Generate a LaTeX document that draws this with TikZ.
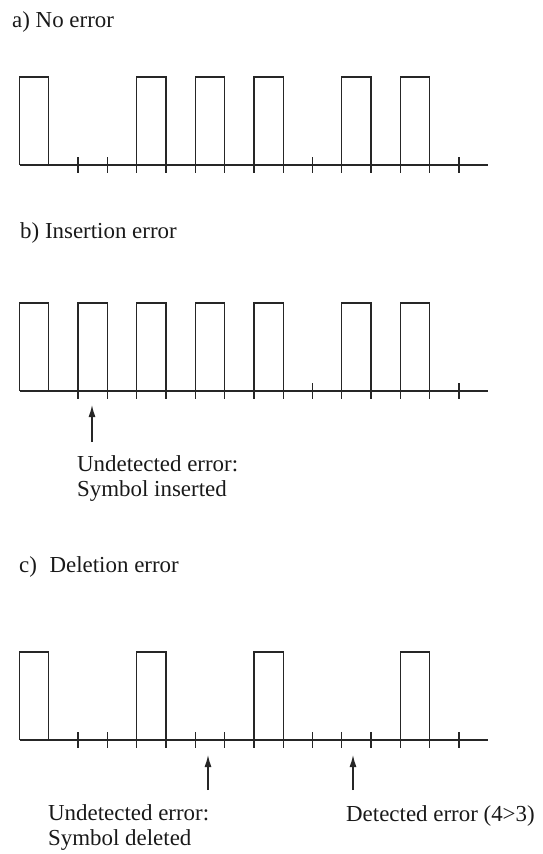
\documentclass[tikz,border=0pt]{standalone}
\usepackage{fontspec}
\setmainfont{Liberation Serif}
\usetikzlibrary{arrows.meta}
\begin{document}
\begin{tikzpicture}[x=1bp,y=-1bp,
  wave/.style={draw=black!85,line width=1.3bp,line join=miter},
  tickmark/.style={draw=black!85,line width=1.3bp},
  lbl/.style={anchor=base west,inner sep=0pt,font=\fontsize{23}{25}\selectfont,text=black!90},
  arr/.style={draw=black!85,line width=1.3bp,-{Latex[length=12bp,width=7bp]}}]
\useasboundingbox (0,0) rectangle (543,854);
\def\wx{19.5}
\def\wst{29.3}
\def\wh{88}
\def\wend{488}
% ---------- a) ----------
\node[lbl] (ta) at (12,27) {a) No error};
\def\bl{165}
\draw[wave] (\wx,\bl) -- (\wend,\bl);
\foreach \s in {0,4,6,8,11,13}
  \draw[wave] ({\wx+\s*\wst},\bl) -- ++(0,-\wh) -- ++(\wst,0) -- ++(0,\wh);
\foreach \k in {2,...,15}
  \draw[tickmark] ({\wx+\k*\wst},\bl-8) -- ++(0,16);
% ---------- b) ----------
\node[lbl] (tb) at (20,238) {b) Insertion error};
\def\bl{391}
\draw[wave] (\wx,\bl) -- (\wend,\bl);
\foreach \s in {0,2,4,6,8,11,13}
  \draw[wave] ({\wx+\s*\wst},\bl) -- ++(0,-\wh) -- ++(\wst,0) -- ++(0,\wh);
\foreach \k in {2,...,15}
  \draw[tickmark] ({\wx+\k*\wst},\bl-8) -- ++(0,16);
\coordinate (b1tail) at (92,442);
\coordinate (b1tip) at (92,405);
\draw[arr] (b1tail) -- (b1tip);
\node[lbl] (tb1) at (77,471) {Undetected error:};
\node[lbl] (tb2) at (77,496) {Symbol inserted};
% ---------- c) ----------
\node[lbl] (tc) at (19,572) {c)\hspace{0.55em}Deletion error};
\def\bl{740}
\draw[wave] (\wx,\bl) -- (\wend,\bl);
\foreach \s in {0,4,8,13}
  \draw[wave] ({\wx+\s*\wst},\bl) -- ++(0,-\wh) -- ++(\wst,0) -- ++(0,\wh);
\foreach \k in {2,...,15}
  \draw[tickmark] ({\wx+\k*\wst},\bl-8) -- ++(0,16);
\coordinate (c1tail) at (208,790);
\coordinate (c1tip) at (208,755);
\draw[arr] (c1tail) -- (c1tip);
\coordinate (c2tail) at (353,790);
\coordinate (c2tip) at (353,755);
\draw[arr] (c2tail) -- (c2tip);
\node[lbl] (tc1) at (48,820) {Undetected error:};
\node[lbl] (tc2) at (48,845) {Symbol deleted};
\node[lbl] (tc3) at (346,821) {Detected error (4>3)};
\end{tikzpicture}
\end{document}
